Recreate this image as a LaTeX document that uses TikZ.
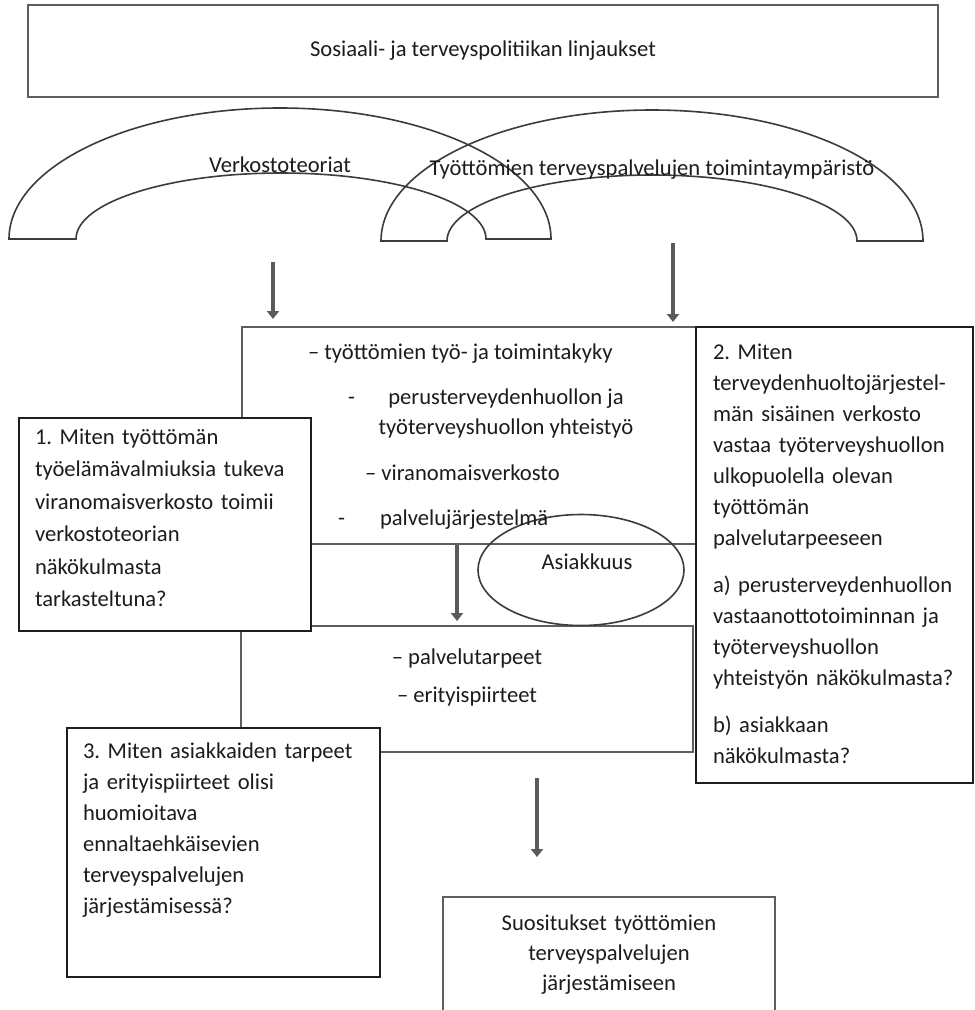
\documentclass[tikz,border=0pt]{standalone}
\usepackage{fontspec}
\setmainfont{Carlito}
\frenchspacing
\usetikzlibrary{shapes.geometric,arrows.meta}
\definecolor{framegray}{HTML}{5E5E5E}
\definecolor{framedark}{HTML}{1E1E1E}
\definecolor{arcgray}{HTML}{3C3C3C}
\definecolor{arrowgray}{HTML}{5A5A5A}
\definecolor{ink}{HTML}{1C1C1C}
\tikzset{
  x=1pt, y=1pt,
  every node/.style={text=ink, inner sep=0pt, outer sep=0pt},
  txt/.style={font=\fontsize{22.6}{31}\selectfont},
  para/.style={txt, text width=#1, align=left, anchor=base west},
  graybox/.style={draw=framegray, line width=2pt, fill=white, anchor=north west},
  darkbox/.style={draw=framedark, line width=1.4pt, fill=white, anchor=north west},
  blockarc/.style={draw=arcgray, line width=1.6pt},
  downarrow/.style={draw=arrowgray, line width=3.6pt, -{Triangle[width=12pt,length=8pt]}},
}
\begin{document}
\begin{tikzpicture}
\useasboundingbox (0,0) rectangle (975,-1010);
\fill[white] (0,0) rectangle (975,-1010);
\begin{scope}
\clip (0,0) rectangle (975,-1010);

% two overlapping block arcs
\draw[blockarc] (9,-239) arc[start angle=180, end angle=0, x radius=271pt, y radius=131pt]
  -- (486,-239) arc[start angle=0, end angle=180, x radius=205pt, y radius=66pt] -- cycle;
\draw[blockarc] (381,-241) arc[start angle=180, end angle=0, x radius=271pt, y radius=131pt]
  -- (857,-241) arc[start angle=0, end angle=180, x radius=205pt, y radius=66pt] -- cycle;

% policy frame
\node[graybox, minimum width=910pt, minimum height=92pt, txt] (policy) at (28,-5)
  {Sosiaali- ja terveyspolitiikan linjaukset};

% central frames
\node[graybox, minimum width=454pt, minimum height=217pt] (main) at (242,-327) {};
\node[graybox, minimum width=452pt, minimum height=126pt] (lower) at (241,-626) {};

% arrows from the arcs into the central frame
\coordinate (theoryfoot) at (273,-262);
\coordinate (envfoot) at (673,-243);
\draw[downarrow] (theoryfoot) -- ([yshift=8pt]theoryfoot |- main.north);
\draw[downarrow] (envfoot) -- ([yshift=5pt]envfoot |- main.north);

% client ellipse and inner arrow
\node[draw=arcgray, line width=1.6pt, ellipse, minimum width=206pt, minimum height=111pt] (asiak) at (581,-570) {};
\node[txt, anchor=base] (asiaktext) at (587,-569) {Asiakkuus};
\coordinate (midtop) at (457,-545);
\draw[downarrow] (midtop) -- ([yshift=5pt]midtop |- lower.north);

% question frames
\node[darkbox, minimum width=292pt, minimum height=213pt] (q1) at (19,-418) {};
\node[darkbox, minimum width=277pt, minimum height=456pt] (q2) at (696,-327) {};
\node[darkbox, minimum width=313pt, minimum height=249pt] (q3) at (67,-728) {};

% outcome frame
\node[graybox, minimum width=332pt, minimum height=130pt] (final) at (443,-897) {};
\coordinate (outtop) at (537,-778);
\draw[downarrow] (outtop) -- ([yshift=40pt]outtop |- final.north);

% arc labels
\node[txt, anchor=base] (theorylabel) at (280,-172) {Verkostoteoriat};
\node[txt, anchor=base] (envlabel) at (652,-175) {Työttömien terveyspalvelujen toimintaympäristö};

% central frame contents
\node[txt, anchor=base west] (m1) at (308,-359) {– työttömien työ- ja toimintakyky};
\node[txt, anchor=base west] (m2dash) at (348,-404) {-};
\node[txt, anchor=base] (m2a) at (506,-404) {perusterveydenhuollon ja};
\node[txt, anchor=base] (m2b) at (506,-434) {työterveyshuollon yhteistyö};
\node[txt, anchor=base west] (m3) at (365,-480) {– viranomaisverkosto};
\node[txt, anchor=base west] (m4dash) at (338,-525) {-};
\node[txt, anchor=base west] (m4) at (380,-525) {palvelujärjestelmä};

\node[txt, anchor=base] (l1) at (467,-664) {– palvelutarpeet};
\node[txt, anchor=base] (l2) at (467,-702) {– erityispiirteet};

% question texts
\node[para=275pt, font=\fontsize{22.6}{32.5}\selectfont] (q1text) at (35,-444)
  {1. Miten työttömän\\työelämävalmiuksia tukeva\\viranomaisverkosto toimii\\verkostoteorian\\näkökulmasta\\tarkasteltuna?};
\node[para=255pt] (q2text) at (713,-359)
  {2. Miten\\terveydenhuoltojärjestel-\\män sisäinen verkosto\\vastaa työterveyshuollon\\ulkopuolella olevan\\työttömän\\palvelutarpeeseen\\[16pt]
   a) perusterveydenhuollon\\vastaanottotoiminnan ja\\työterveyshuollon\\yhteistyön näkökulmasta?\\[16pt]
   b) asiakkaan\\näkökulmasta?};
\node[para=290pt] (q3text) at (83,-758)
  {3. Miten asiakkaiden tarpeet\\ja erityispiirteet olisi\\huomioitava\\ennaltaehkäisevien\\terveyspalvelujen\\järjestämisessä?};

% outcome text
\node[txt, font=\fontsize{22.6}{30}\selectfont, text width=320pt, align=center, anchor=base] (finaltext) at (609,-930)
  {Suositukset työttömien\\terveyspalvelujen\\järjestämiseen};
\end{scope}
\end{tikzpicture}
\end{document}
